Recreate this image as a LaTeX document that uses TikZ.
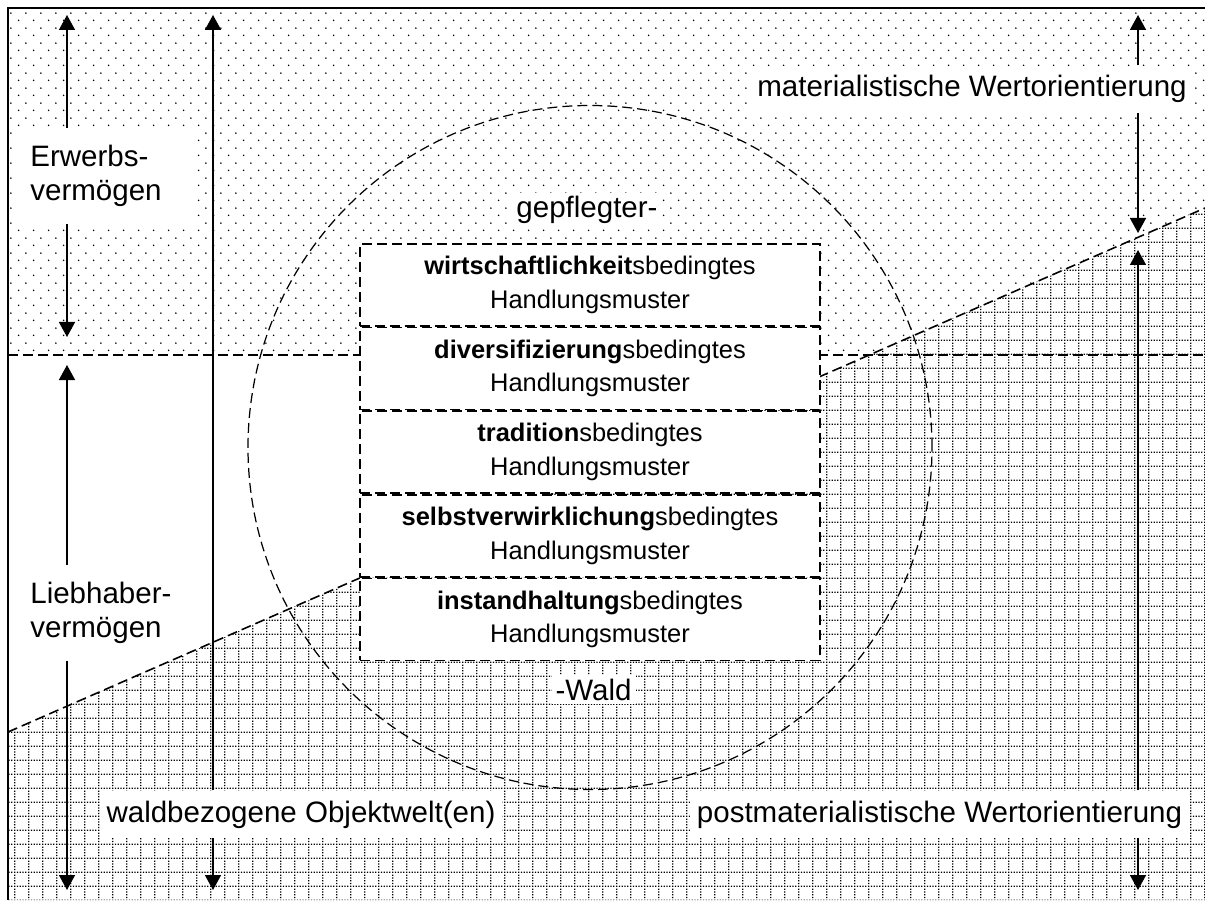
\documentclass[tikz,border=0pt]{standalone}
\usepackage{fontspec}
\setmainfont{Liberation Sans}
\usetikzlibrary{arrows.meta, positioning, patterns}

\pgfdeclarepatternformonly{sparsedots}{\pgfpointorigin}{\pgfqpoint{8.4pt}{8.4pt}}{\pgfqpoint{8.4pt}{8.4pt}}{%
  \pgfpathcircle{\pgfqpoint{2.1pt}{2.1pt}}{0.5pt}%
  \pgfpathcircle{\pgfqpoint{6.3pt}{6.3pt}}{0.5pt}%
  \pgfusepath{fill}%
}
\pgfdeclarepatternformonly{dotgrid}{\pgfpointorigin}{\pgfqpoint{8.2pt}{8.2pt}}{\pgfqpoint{8.2pt}{8.2pt}}{%
  \pgfpathrectangle{\pgfqpoint{0pt}{0pt}}{\pgfqpoint{0.8pt}{0.8pt}}%
  \pgfpathrectangle{\pgfqpoint{1.64pt}{0pt}}{\pgfqpoint{0.8pt}{0.8pt}}%
  \pgfpathrectangle{\pgfqpoint{3.28pt}{0pt}}{\pgfqpoint{0.8pt}{0.8pt}}%
  \pgfpathrectangle{\pgfqpoint{4.92pt}{0pt}}{\pgfqpoint{0.8pt}{0.8pt}}%
  \pgfpathrectangle{\pgfqpoint{6.56pt}{0pt}}{\pgfqpoint{0.8pt}{0.8pt}}%
  \pgfpathrectangle{\pgfqpoint{0pt}{1.64pt}}{\pgfqpoint{0.8pt}{0.8pt}}%
  \pgfpathrectangle{\pgfqpoint{0pt}{3.28pt}}{\pgfqpoint{0.8pt}{0.8pt}}%
  \pgfpathrectangle{\pgfqpoint{0pt}{4.92pt}}{\pgfqpoint{0.8pt}{0.8pt}}%
  \pgfpathrectangle{\pgfqpoint{0pt}{6.56pt}}{\pgfqpoint{0.8pt}{0.8pt}}%
  \pgfusepath{fill}%
}

\tikzset{
  grenze/.style={line width=0.9pt, dash pattern=on 0.2cm off 0.1cm},
  muster/.style={draw, line width=0.9pt, dash pattern=on 0.2cm off 0.1cm, fill=white,
    font=\fontsize{14.5}{19.1}\selectfont,
    text width=9cm, align=center, minimum height=1.64cm, inner xsep=0.1cm, inner ysep=0pt},
  etikett/.style={fill=white, anchor=base, inner xsep=0.14cm, inner ysep=0.2cm},
  vermoegen/.style={fill=white, align=left, text width=2.94cm, inner xsep=0.36cm, inner ysep=0.34cm,
    anchor=north west, font=\fontsize{16.8}{19.3}\selectfont},
  pfeil/.style={line width=0.9pt, -{Triangle[width=0.32cm, length=0.3cm]}}
}

\begin{document}
\begin{tikzpicture}[font=\fontsize{16.8}{20}\selectfont]
    \useasboundingbox (0,0) rectangle (24.1,18);

    \fill[pattern=sparsedots] (0.16,10.9) -- (17.38,10.9) -- (24.1,13.84) -- (24.1,17.84) -- (0.16,17.84) -- cycle;
    \fill[pattern=dotgrid] (0.16,3.36) -- (24.1,13.84) -- (24.1,0) -- (0.16,0) -- cycle;

    \draw[grenze] (0.16,3.36) -- (24.1,13.84);
    \draw[grenze] (0.16,10.9) -- (24.1,10.9);
    \draw[grenze, line width=0.7pt] (11.8,9.05) circle (6.84);

    \node[muster] (Wirtschaft) at (11.8,12.3) {\textbf{wirtschaftlichkeit}sbedingtes\\Handlungsmuster};
    \node[muster, below=0pt of Wirtschaft] (Diversifizierung) {\textbf{diversifizierung}sbedingtes\\Handlungsmuster};
    \node[muster, below=0pt of Diversifizierung] (Tradition) {\textbf{tradition}sbedingtes\\Handlungsmuster};
    \node[muster, below=0pt of Tradition] (Selbst) {\textbf{selbstverwirklichung}sbedingtes\\Handlungsmuster};
    \node[muster, below=0pt of Selbst] (Instand) {\textbf{instandhaltung}sbedingtes\\Handlungsmuster};

    \node[fill=white, anchor=base, inner sep=0.08cm] (Gepflegt) at (11.74,13.64) {gepflegter-};
    \node[fill=white, anchor=base, inner sep=0.08cm] (Wald) at (11.87,4.0) {-Wald};

    \node[vermoegen] (Erwerb) at (0.24,15.44) {Erwerbs-\\vermögen};
    \node[vermoegen, fill=none] (Liebhaber) at (0.24,6.7) {Liebhaber-\\vermögen};
    \node[etikett] (Objektwelt) at (6.02,1.56) {waldbezogene Objektwelt(en)};
    \node[etikett] (Materiell) at (19.44,16.06) {materialistische Wertorientierung};
    \node[etikett] (Postmateriell) at (18.79,1.56) {postmaterialistische Wertorientierung};

    \coordinate (ETop) at (1.34,17.7);
    \coordinate (EBot) at (1.34,11.26);
    \coordinate (LTop) at (1.34,10.7);
    \coordinate (LBot) at (1.34,0.2);
    \coordinate (OTop) at (4.26,17.7);
    \coordinate (OBot) at (4.26,0.2);
    \coordinate (MTop) at (22.76,17.7);
    \coordinate (MBot) at (22.76,13.34);
    \coordinate (PTop) at (22.76,13.0);
    \coordinate (PBot) at (22.76,0.2);

    \draw[pfeil] (Erwerb.north -| ETop) -- (ETop);
    \draw[pfeil] (Erwerb.south -| EBot) -- (EBot);
    \draw[pfeil] (Liebhaber.north -| LTop) -- (LTop);
    \draw[pfeil] (Liebhaber.south -| LBot) -- (LBot);
    \draw[pfeil] (Objektwelt.north -| OTop) -- (OTop);
    \draw[pfeil] (Objektwelt.south -| OBot) -- (OBot);
    \draw[pfeil] (Materiell.north -| MTop) -- (MTop);
    \draw[pfeil] (Materiell.south -| MBot) -- (MBot);
    \draw[pfeil] (Postmateriell.north -| PTop) -- (PTop);
    \draw[pfeil] (Postmateriell.south -| PBot) -- (PBot);

    \draw[line width=1.2pt] (0.16,0) -- (0.16,17.84) -- (24.1,17.84);
\end{tikzpicture}
\end{document}
